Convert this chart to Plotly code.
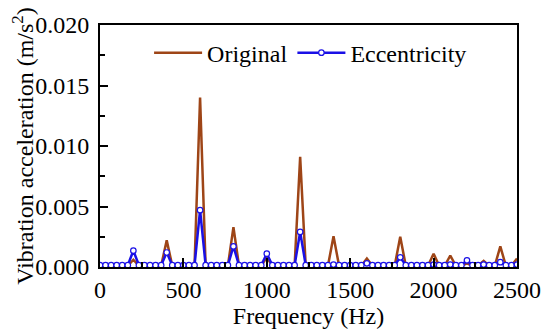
import plotly.graph_objects as go

freq = [0, 33.3, 66.7, 100, 133.3, 166.7, 200, 233.3, 266.7, 300, 333.3, 366.7,
        400, 433.3, 466.7, 500, 533.3, 566.7, 600, 633.3, 666.7, 700, 733.3, 766.7,
        800, 833.3, 866.7, 900, 933.3, 966.7, 1000, 1033.3, 1066.7, 1100, 1133.3, 1166.7,
        1200, 1233.3, 1266.7, 1300, 1333.3, 1366.7, 1400, 1433.3, 1466.7, 1500, 1533.3, 1566.7,
        1600, 1633.3, 1666.7, 1700, 1733.3, 1766.7, 1800, 1833.3, 1866.7, 1900, 1933.3, 1966.7,
        2000, 2033.3, 2066.7, 2100, 2133.3, 2166.7, 2200, 2233.3, 2266.7, 2300, 2333.3, 2366.7,
        2400, 2433.3, 2466.7, 2500]

original = [0.0001, 0.0001, 0.0001, 0.0001, 0.0001, 0.0001, 0.0006, 0.0001, 0.0001, 0.0001, 0.0001, 0.0001,
            0.0022, 0.0001, 0.0001, 0.0001, 0.0001, 0.0001, 0.0140, 0.0001, 0.0001, 0.0001, 0.0001, 0.0001,
            0.0033, 0.0001, 0.0001, 0.0001, 0.0001, 0.0001, 0.0008, 0.0001, 0.0001, 0.0001, 0.0001, 0.0001,
            0.0091, 0.0001, 0.0001, 0.0001, 0.0001, 0.0001, 0.00255, 0.0001, 0.0001, 0.0001, 0.0001, 0.0001,
            0.0007, 0.0001, 0.0001, 0.0001, 0.0001, 0.0001, 0.0025, 0.0001, 0.0001, 0.0001, 0.0001, 0.0001,
            0.0011, 0.0001, 0.0001, 0.00095, 0.0001, 0.0001, 0.0003, 0.0001, 0.0001, 0.0005, 0.0001, 0.0001,
            0.0017, 0.0001, 0.0001, 0.0007]

eccentricity = [0.00015, 0.00015, 0.00015, 0.00015, 0.00015, 0.00015, 0.00135, 0.00015, 0.00015, 0.00015, 0.00015, 0.00015,
                0.0012, 0.00015, 0.00015, 0.00015, 0.00015, 0.00015, 0.0047, 0.00015, 0.00015, 0.00015, 0.00015, 0.00015,
                0.0017, 0.00015, 0.00015, 0.00015, 0.00015, 0.00015, 0.0011, 0.00015, 0.00015, 0.00015, 0.00015, 0.00015,
                0.0029, 0.00015, 0.00015, 0.00015, 0.00015, 0.00015, 0.0002, 0.00015, 0.00015, 0.00015, 0.00015, 0.00015,
                0.0003, 0.00015, 0.00015, 0.00015, 0.00015, 0.00015, 0.0008, 0.00015, 0.00015, 0.00015, 0.00015, 0.00015,
                0.0002, 0.00015, 0.00015, 0.0002, 0.00015, 0.00015, 0.00055, 0.00015, 0.00015, 0.0002, 0.00015, 0.00015,
                0.0004, 0.00015, 0.00015, 0.0002]

x_ticks = [0, 500, 1000, 1500, 2000, 2500]
y_ticks = [0.000, 0.005, 0.010, 0.015, 0.020]
y_tick_labels = ["0.000", "0.005", "0.010", "0.015", "0.020"]

FONT = "Liberation Serif"
FS = 24

fig = go.Figure()
fig.add_trace(go.Scatter(
    x=freq, y=original, name="Original", mode="lines",
    line=dict(color="#9E4517", width=2.5),
))
fig.add_trace(go.Scatter(
    x=freq, y=eccentricity, name="Eccentricity", mode="lines+markers",
    line=dict(color="#1A10E6", width=2.5),
    marker=dict(symbol="circle", size=5.5, color="white", line=dict(color="#1A10E6", width=1.2)),
))

axis_common = dict(
    showline=True, linecolor="black", linewidth=2, mirror=True,
    ticks="inside", tickcolor="black", tickwidth=2,
    showgrid=False, zeroline=False, automargin=False,
    tickfont=dict(family=FONT, size=FS, color="black"),
)

# page body has an 8px default margin, so the figure is sized/offset to compensate
fig.update_layout(
    width=542, height=323,
    margin=dict(l=92, r=33, t=17, b=64),
    paper_bgcolor="white", plot_bgcolor="white",
    font=dict(family=FONT, size=FS, color="black"),
    showlegend=True,
    legend=dict(
        orientation="h", x=0.505, y=0.884, xanchor="center", yanchor="middle",
        font=dict(family=FONT, size=FS, color="black"),
        bgcolor="rgba(0,0,0,0)", itemwidth=48, tracegroupgap=0,
    ),
    xaxis=dict(
        range=[0, 2500], tickvals=x_ticks, ticklen=9,
        minor=dict(dtick=250, ticks="inside", ticklen=5, tickcolor="black", tickwidth=2),
        title=dict(text="Frequency (Hz)", font=dict(family=FONT, size=FS), standoff=0),
        **axis_common,
    ),
    yaxis=dict(
        range=[0, 0.020], tickvals=y_ticks, ticktext=y_tick_labels, ticklen=8,
        minor=dict(dtick=0.0025, ticks="inside", ticklen=5, tickcolor="black", tickwidth=2),
        title=dict(text="Vibration acceleration (m/s<sup>2</sup>)", font=dict(family=FONT, size=FS), standoff=2),
        ticklabelstandoff=4,
        **axis_common,
    ),
)

fig.write_html("out.html")
